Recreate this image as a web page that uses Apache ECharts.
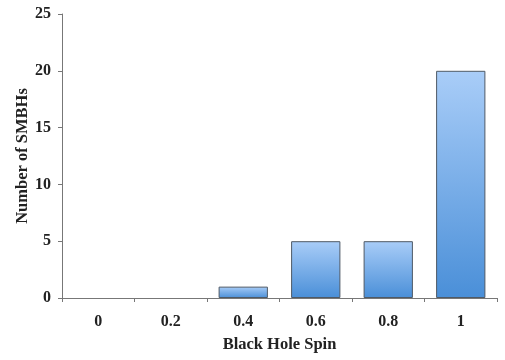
<!DOCTYPE html>
<html><head><meta charset="utf-8">
<script src="https://cdn.jsdelivr.net/npm/echarts@6/dist/echarts.min.js"></script>
<style>html,body{margin:0;padding:0;background:#fff}#c{width:505px;height:360px}</style>
</head><body><div id="c"></div>
<script>
var categories = ['0', '0.2', '0.4', '0.6', '0.8', '1'];
var counts = [0, 0, 1, 5, 5, 20];
var yTicks = [0, 5, 10, 15, 20, 25];
var xTitle = 'Black Hole Spin';
var yTitle = 'Number of SMBHs';

var font = '"Liberation Serif", "Times New Roman", serif';
var barData = counts.map(function (v) {
  return v === 0 ? {value: v, itemStyle: {borderWidth: 0, opacity: 0}} : {value: v};
});
var chart = echarts.init(document.getElementById('c'), null, {renderer: 'canvas'});
chart.setOption({
  animation: false,
  grid: {left: 62, right: 8, top: 14, bottom: 62, containLabel: false, outerBoundsMode: 'none'},
  xAxis: {
    type: 'category', data: categories,
    name: xTitle, nameLocation: 'middle', nameGap: 38,
    nameTextStyle: {fontFamily: font, fontWeight: 'bold', fontSize: 16.5, color: '#222'},
    axisLine: {lineStyle: {color: '#777', width: 1}},
    axisTick: {show: true, alignWithLabel: false, length: 4, lineStyle: {color: '#777'}},
    axisLabel: {fontFamily: font, fontWeight: 'bold', fontSize: 16, color: '#222', margin: 16}
  },
  yAxis: {
    type: 'value', min: yTicks[0], max: yTicks[yTicks.length - 1], interval: 5,
    name: yTitle, nameLocation: 'middle', nameGap: 31, nameRotate: 90, nameMoveOverlap: false,
    nameTextStyle: {fontFamily: font, fontWeight: 'bold', fontSize: 16.5, color: '#222'},
    axisLine: {show: true, lineStyle: {color: '#777', width: 1}},
    axisTick: {show: true, length: 4, lineStyle: {color: '#777'}},
    splitLine: {show: false},
    axisLabel: {fontFamily: font, fontWeight: 'bold', fontSize: 16, color: '#222', margin: 11}
  },
  series: [{
    type: 'bar', data: barData, barCategoryGap: '32%',
    itemStyle: {
      borderColor: '#4f5a66', borderWidth: 1,
      color: new echarts.graphic.LinearGradient(0, 0, 0, 1, [
        {offset: 0, color: '#a9cdf8'},
        {offset: 1, color: '#4a8fd8'}
      ])
    }
  }]
});
</script></body></html>
